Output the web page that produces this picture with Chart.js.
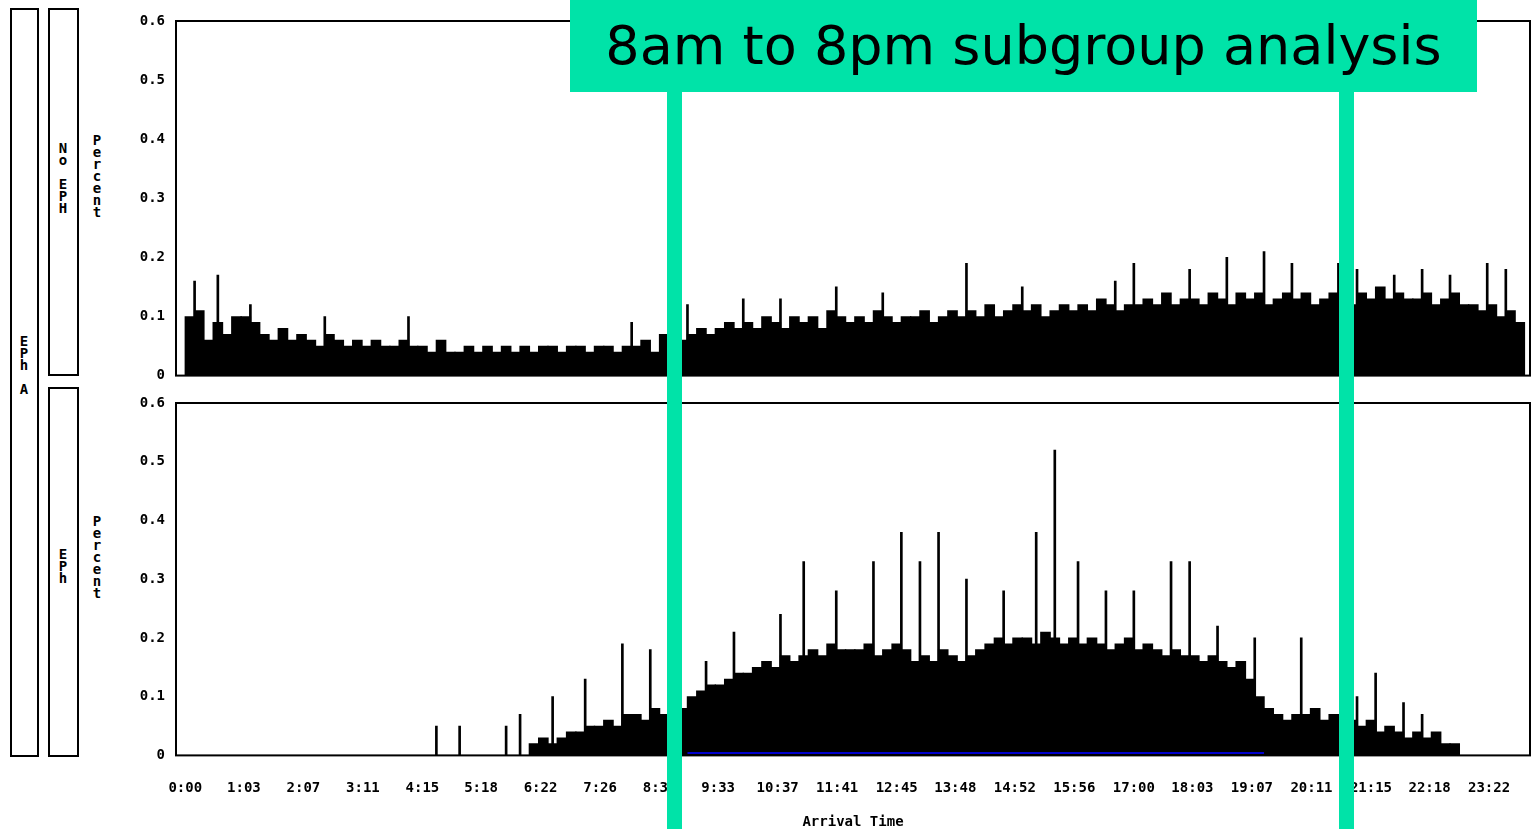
<!DOCTYPE html>
<html>
<head>
<meta charset="utf-8">
<script src="https://cdn.jsdelivr.net/npm/chart.js@4/dist/chart.umd.min.js"></script>
<style>
  body { margin:0; background:#fff; width:1533px; height:829px; position:relative; overflow:hidden; font-family:"DejaVu Sans Mono", monospace; }
  .box { position:absolute; border:2px solid #000; box-sizing:border-box; }
  .vlab { position:absolute; font-size:14px; font-weight:bold; line-height:12px; text-align:center; width:14px; word-break:break-all; }
  .green { position:absolute; background:#00e3a8; }
  #title { position:absolute; left:570px; top:0; width:907px; height:92px; background:#00e3a8; color:#000;
           font-family:"DejaVu Sans", sans-serif; font-size:54px; line-height:92px; text-align:center; }
  #c1wrap { position:absolute; left:100px; top:0; width:1433px; height:387px; }
  #c2wrap { position:absolute; left:100px; top:381px; width:1433px; height:450px; }
</style>
</head>
<body>
<div class="box" style="left:10px;top:8px;width:29px;height:749px"></div>
<div class="vlab" style="left:17px;top:335px">E P h<br><br>A</div>
<div class="box" style="left:48px;top:8px;width:31px;height:368px"></div>
<div class="vlab" style="left:56px;top:142px">N o<br><br>E P H</div>
<div class="box" style="left:48px;top:387px;width:31px;height:370px"></div>
<div class="vlab" style="left:56px;top:548px">E P h</div>
<div class="vlab" style="left:90px;top:134px">Percent</div>
<div class="vlab" style="left:90px;top:515px">Percent</div>
<div id="c1wrap"><canvas id="c1"></canvas></div>
<div id="c2wrap"><canvas id="c2"></canvas></div>
<div class="green" style="left:667px;top:85px;width:15px;height:744px"></div>
<div class="green" style="left:1339px;top:85px;width:15px;height:744px"></div>
<div id="title">8am to 8pm subgroup analysis</div>
<script>
const tickLabels = ['0:00','1:03','2:07','3:11','4:15','5:18','6:22','7:26','8:30','9:33','10:37','11:41',
  '12:45','13:48','14:52','15:56','17:00','18:03','19:07','20:11','21:15','22:18','23:22'];
const tickMinutes = tickLabels.map(t => { const p = t.split(':'); return +p[0]*60 + +p[1]; });

// 10-minute bins, percent of arrivals
const noEph = [
  .10,.11,.06,.09,.07,.10, .10,.09,.07,.06,.08,.06, .07,.06,.05,.07,.06,.05, .06,.05,.06,.05,.05,.06,
  .05,.05,.04,.06,.04,.04, .05,.04,.05,.04,.05,.04, .05,.04,.05,.05,.04,.05, .05,.04,.05,.05,.04,.05,
  .05,.06,.04,.07,.07,.06, .07,.08,.07,.08,.09,.08, .09,.08,.10,.09,.08,.10, .09,.10,.08,.11,.10,.09,
  .10,.09,.11,.10,.09,.10, .10,.11,.09,.10,.11,.10, .11,.10,.12,.10,.11,.12, .11,.12,.10,.11,.12,.11,
  .12,.11,.13,.12,.11,.12, .12,.13,.12,.14,.12,.13, .13,.12,.14,.13,.12,.14, .13,.14,.12,.13,.14,.13,
  .14,.12,.13,.14,.13,.12, .14,.13,.15,.13,.14,.13, .13,.14,.12,.13,.14,.12, .12,.11,.12,.10,.11,.09
];
const noEphSpikes = [[10,.16],[35,.17],[70,.12],[150,.10],[240,.10],[480,.09],[540,.12],[600,.13],[640,.13],
  [700,.15],[750,.14],[840,.19],[900,.15],[1000,.16],[1020,.19],[1080,.18],[1120,.20],[1160,.21],[1190,.19],
  [1240,.19],[1260,.18],[1300,.17],[1330,.18],[1360,.17],[1400,.19],[1420,.18]];
const eph = [
  0,0,0,0,0,0, 0,0,0,0,0,0, 0,0,0,0,0,0, 0,0,0,0,0,0,
  0,0,0,0,0,0, 0,0,0,0,0,0, 0,.02,.03,.02,.03,.04, .04,.05,.05,.06,.05,.07,
  .07,.06,.08,.07,.06,.08, .10,.11,.12,.12,.13,.14, .14,.15,.16,.15,.17,.16, .17,.18,.17,.19,.18,.18,
  .18,.19,.17,.18,.19,.18, .16,.17,.16,.18,.17,.16, .17,.18,.19,.20,.19,.20, .20,.19,.21,.20,.19,.20,
  .19,.20,.19,.18,.19,.20, .18,.19,.18,.17,.18,.17, .17,.16,.17,.16,.15,.16, .13,.10,.08,.07,.06,.07,
  .07,.08,.06,.07,.05,.06, .05,.06,.04,.05,.04,.03, .04,.03,.04,.02,.02,0, 0,0,0,0,0,0
];
const ephSpikes = [[270,.05],[295,.05],[345,.05],[360,.07],[395,.10],[430,.13],[470,.19],[500,.18],[560,.16],
  [590,.21],[640,.24],[665,.33],[700,.28],[740,.33],[770,.38],[790,.33],[810,.38],[840,.30],[880,.28],[915,.38],
  [935,.52],[960,.33],[990,.28],[1020,.28],[1060,.33],[1080,.33],[1110,.22],[1150,.20],[1200,.20],[1260,.10],
  [1280,.14],[1310,.09],[1330,.07]];
const blueLine = [[540,.004],[1160,.004]];

const frame = { id:'frame', afterDraw(c) { const a=c.chartArea, x=c.ctx; x.save(); x.strokeStyle='#000'; x.lineWidth=2;
  x.strokeRect(a.left, a.top, a.right-a.left, a.bottom-a.top); x.restore(); } };

function make(id, bins, spikes, showX, extra) {
  const ds = [
    { type:'bar', data: bins.map((v,i)=>({x:i*10+5, y:v})), backgroundColor:'#000', barThickness:10, grouped:false, order:2 },
    { type:'bar', data: spikes.map(p=>({x:p[0], y:p[1]})), backgroundColor:'#000', barThickness:2, grouped:false, order:1 }
  ];
  if (extra) ds.push(extra);
  return new Chart(document.getElementById(id), {
    type:'bar',
    data:{ datasets: ds },
    plugins:[frame],
    options:{
      responsive:true, maintainAspectRatio:false, animation:false,
      layout:{ padding:{ top: showX ? 22 : 21, right:3, bottom: showX ? 0 : 2 } },
      plugins:{ legend:{display:false}, tooltip:{enabled:false} },
      scales:{
        x:{ type:'linear', offset:false, min:-10, max:1446, grid:{display:false},
            border:{display:false},
            afterBuildTicks: s => { s.ticks = tickMinutes.map(v=>({value:v})); },
            ticks:{ display:showX, maxRotation:0, autoSkip:false, color:'#000', padding:17,
              font:{family:'DejaVu Sans Mono', size:14, weight:'bold'}, callback:(v,i)=>tickLabels[i] },
            title:{ display:showX, text:'Arrival Time', color:'#000', font:{family:'DejaVu Sans Mono', size:14, weight:'bold'}, padding:{top:0,bottom:0} } },
        y:{ min:0, max:0.6, afterFit: s => { s.width = 76; },
            grid:{display:false}, border:{display:false},
            ticks:{ stepSize:0.1, color:'#000', font:{family:'DejaVu Sans Mono', size:14, weight:'bold'},
              callback:v => v===0 ? '0' : v.toFixed(1) } }
      }
    }
  });
}
make('c1', noEph, noEphSpikes, false);
make('c2', eph, ephSpikes, true, { type:'line', data: blueLine.map(p=>({x:p[0], y:p[1]})), borderColor:'#0000cc', borderWidth:2, pointRadius:0, order:0 });
</script>
</body>
</html>
